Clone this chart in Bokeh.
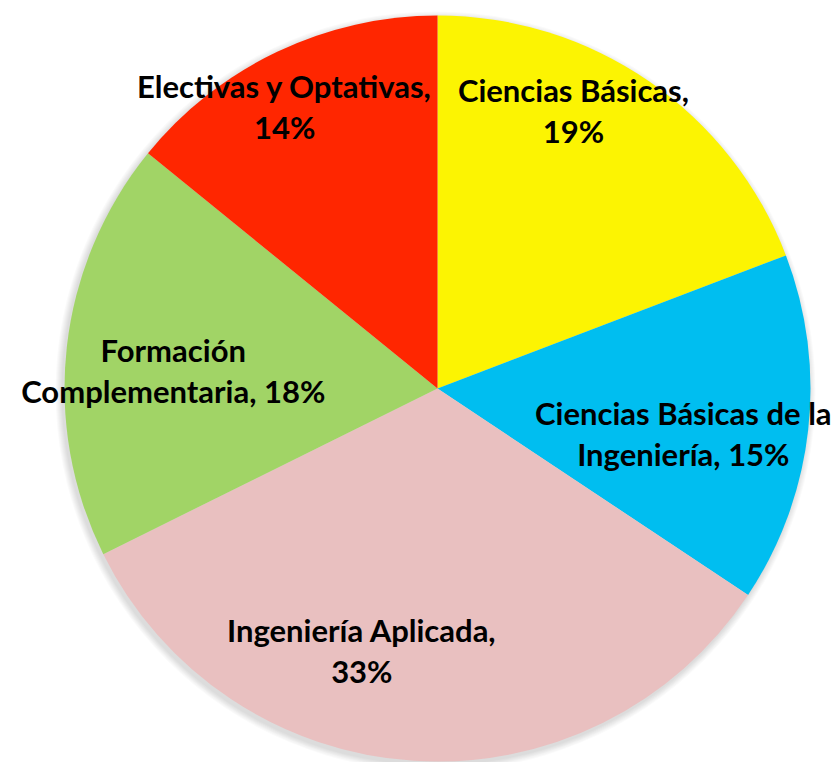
import math
from bokeh.plotting import figure
from bokeh.models import Range1d, ColumnDataSource
from bokeh.core.properties import value
from bokeh.embed import file_html
from bokeh.resources import INLINE

# Data
categories = ["Ciencias Básicas", "Ciencias Básicas de la Ingeniería", "Ingeniería Aplicada",
              "Formación Complementaria", "Electivas y Optativas"]
percent = [19, 15, 33, 18, 14]
label_text = ["Ciencias Básicas,\n19%", "Ciencias Básicas de la\nIngeniería, 15%",
              "Ingeniería Aplicada,\n33%", "Formación\nComplementaria, 18%",
              "Electivas y Optativas,\n14%"]
colors = ["#FCF402", "#00BEF0", "#E9C0C0", "#A1D466", "#FF2600"]

# layout (style)
W, H = 839, 762
cx, cy, R = 437, H - 388, 373
label_r = [0.83, 0.67, 0.73, 0.71, 0.86]
label_da = [-8.5, 4.0, 12.5, -2.5, -3.0]

total = sum(percent)
starts, ends, lx, ly = [], [], [], []
cum = 0.0
for i, v in enumerate(percent):
    a0 = cum / total
    cum += v
    a1 = cum / total
    starts.append(math.pi / 2 - 2 * math.pi * a0)
    ends.append(math.pi / 2 - 2 * math.pi * a1)
    mid = (a0 + a1) / 2 * 360 + label_da[i]
    rad = math.radians(mid)
    lx.append(cx + label_r[i] * R * math.sin(rad))
    ly.append(cy + label_r[i] * R * math.cos(rad))

src = ColumnDataSource(dict(start=starts, end=ends, color=colors, cat=categories,
                            lx=lx, ly=ly, label=label_text))

p = figure(width=W, height=H, output_backend="svg", toolbar_location=None,
           x_range=Range1d(0, W), y_range=Range1d(0, H), min_border=0)
p.axis.visible = False
p.grid.visible = False
p.outline_line_color = None
p.background_fill_color = "white"
p.border_fill_color = "white"

# soft shadow
for k in range(1, 8):
    p.circle(x=cx - 2, y=cy - 3, radius=R + k, fill_color="black", fill_alpha=0.02,
             line_color=None)

p.wedge(x=cx, y=cy, radius=R, start_angle="start", end_angle="end", direction="clock",
        fill_color="color", line_color=None, source=src)

p.text(x="lx", y="ly", text="label", source=src, text_align="center", text_baseline="middle",
       text_font=value("Lato"), text_font_style="bold", text_font_size="31px",
       text_color="black", text_line_height=1.08)

open("out.html", "w").write(file_html(p, INLINE))
